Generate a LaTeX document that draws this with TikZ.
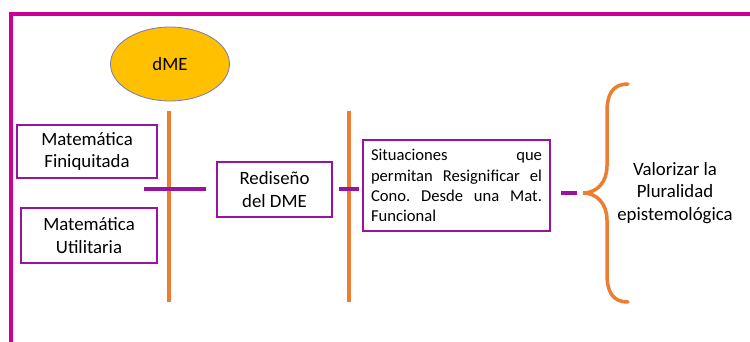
\documentclass[tikz,border=0pt]{standalone}
\usepackage{fontspec}
\setmainfont{Carlito}
\usetikzlibrary{positioning,shapes.geometric}
\definecolor{framemag}{RGB}{204,0,153}
\definecolor{boxpurp}{RGB}{150,20,160}
\definecolor{axisor}{RGB}{237,125,49}
\definecolor{dmegold}{RGB}{255,192,0}
\definecolor{dmeedge}{RGB}{120,120,200}
\newcommand{\bigtxt}{\fontsize{18.8}{22.7}\selectfont}
\newcommand{\smalltxt}{\fontsize{16.6}{20.2}\selectfont}
\frenchspacing

\begin{document}
\begin{tikzpicture}[x=1pt, y=-1pt,
  box/.style={draw=boxpurp, line width=2pt, align=center, font=\bigtxt, inner sep=0pt},
  axis/.style={draw=axisor, line width=3.5pt},
  link/.style={draw=boxpurp, line width=3.5pt},
  goaltxt/.style={align=center, font=\bigtxt, inner sep=0pt}]
  \useasboundingbox (0,0) rectangle (750,341);
  % outer frame
  \draw[framemag, line width=4pt] (11,360) |- (770,14);
  % dME ellipse
  \node[ellipse, fill=dmegold, draw=dmeedge, line width=0.8pt, minimum width=119pt, minimum height=74pt, font=\bigtxt] (dme) at (170,64) {dME};
  % the two axes
  \coordinate (ax1t) at (169,111);
  \coordinate (ax1b) at (169,302);
  \coordinate (ax2t) at (349,111);
  \coordinate (ax2b) at (349,302);
  \draw[axis] (ax1t) -- (ax1b);
  \draw[axis] (ax2t) -- (ax2b);
  % boxes
  \node[box, minimum width=140pt, minimum height=53pt] (fin) at (87,151.5) {Matemática\\Finiquitada};
  \node[box, minimum width=136pt, minimum height=55pt] (uti) at (89,235.5) {Matemática\\Utilitaria};
  \node[box, minimum width=115pt, minimum height=55pt] (red) at (274.5,189.5) {Rediseño\\del DME};
  \node[box, font=\smalltxt, align=justify, text width=171pt, inner xsep=8pt, minimum height=91pt] (sit) at (456.5,185.5)
    {\tolerance=10000 Situaciones que\linebreak permitan Resignificar el\linebreak Cono. Desde una Mat.\linebreak Funcional};
  \node[goaltxt] (goal) at (675,193) {Valorizar la\\Pluralidad\\epistemológica};
  % links
  \coordinate (l1w) at (144,189);
  \coordinate (l1e) at ([xshift=-10pt]red.west |- l1w);
  \coordinate (l2w) at ([xshift=6pt]red.east |- l1w);
  \coordinate (l2e) at ([xshift=-3pt]sit.west |- l1w);
  \coordinate (l3w) at ([xshift=10pt]sit.east |- goal);
  \coordinate (brtip) at (583,193);
  \coordinate (l3e) at ([xshift=-6pt]brtip);
  \draw[link] (l1w) -- (l1e);
  \draw[link] (l2w) -- (l2e);
  \draw[link] (l3w) -- (l3e);
  % brace
  \draw[axisor, line width=3.5pt, line cap=round]
    (628,84) .. controls (612,84) and (607,95) .. (607,112) -- (607,166)
    .. controls (607,182) and (597,193) .. (brtip)
    .. controls (597,193) and (607,204) .. (607,220) -- (607,274)
    .. controls (607,291) and (612,302) .. (628,302);
\end{tikzpicture}
\end{document}
